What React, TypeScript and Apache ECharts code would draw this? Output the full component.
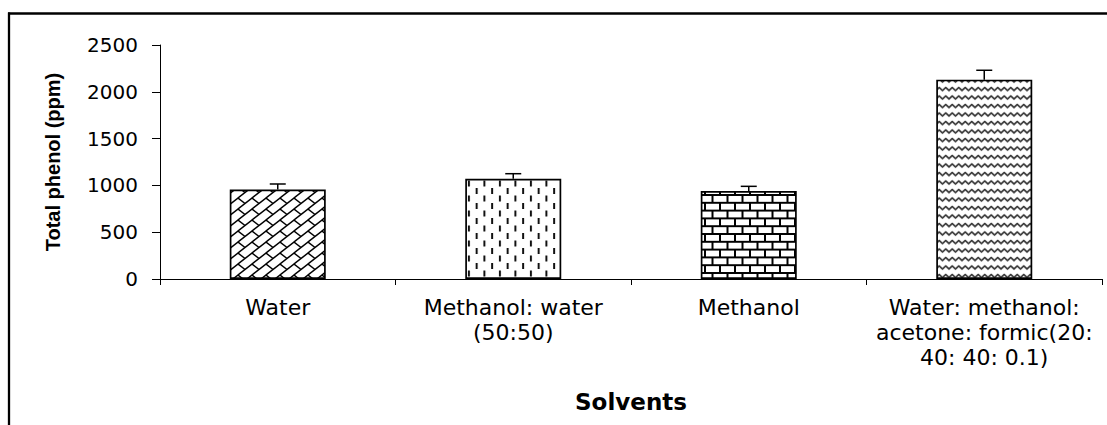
import React, { useEffect, useRef } from "react";
import * as echarts from "echarts";

const categories = [
  "Water",
  "Methanol: water\n(50:50)",
  "Methanol",
  "Water: methanol:\nacetone: formic(20:\n40: 40: 0.1)",
];
const values = [955, 1070, 940, 2130];
const errors = [60, 55, 50, 100];
const yMin = 0;
const yMax = 2500;
const yInterval = 500;

function svgUrl(w: number, h: number, body: string) {
  const svg = `<svg xmlns="http://www.w3.org/2000/svg" width="${w}" height="${h}" viewBox="0 0 ${w} ${h}"><rect width="${w}" height="${h}" fill="#fff"/>${body}</svg>`;
  return "data:image/svg+xml;charset=utf-8," + encodeURIComponent(svg);
}

function makePatterns() {
  // diagonal brick
  const dw = 14, dh = 11;
  let diag = "";
  for (let k = 0; k <= 2; k++) {
    diag += `<line x1="${-dw}" y1="${k * dh + dh}" x2="${2 * dw}" y2="${k * dh - 2 * dh}" stroke="#000" stroke-width="1.4"/>`;
  }
  diag += `<line x1="0" y1="0" x2="${dw / 2}" y2="${dh / 2}" stroke="#000" stroke-width="1.4"/>`;
  diag += `<line x1="${dw}" y1="${dh}" x2="${dw * 1.5}" y2="${dh * 1.5}" stroke="#000" stroke-width="1.4"/>`;
  diag += `<line x1="${-dw / 2}" y1="${-dh / 2}" x2="0" y2="0" stroke="#000" stroke-width="1.4"/>`;

  // dashed vertical
  const vw = 15.5, vh = 15;
  const dash = `<line x1="3.9" y1="0.5" x2="3.9" y2="6.5" stroke="#111" stroke-width="2"/><line x1="11.65" y1="8" x2="11.65" y2="14" stroke="#111" stroke-width="2"/>`;

  // horizontal brick
  const bw = 15, bh = 15.6;
  const brick = `<line x1="0" y1="0" x2="${bw}" y2="0" stroke="#000" stroke-width="2"/><line x1="0" y1="${bh}" x2="${bw}" y2="${bh}" stroke="#000" stroke-width="2"/><line x1="0" y1="${bh / 2}" x2="${bw}" y2="${bh / 2}" stroke="#000" stroke-width="2"/><line x1="0" y1="0" x2="0" y2="${bh / 2}" stroke="#000" stroke-width="2"/><line x1="${bw}" y1="0" x2="${bw}" y2="${bh / 2}" stroke="#000" stroke-width="2"/><line x1="${bw / 2}" y1="${bh / 2}" x2="${bw / 2}" y2="${bh}" stroke="#000" stroke-width="2"/>`;

  // wave
  const ww = 13, wh = 8.5;
  const wave = `<polyline points="-3.25,2.5 0,5.5 3.25,2.5 6.5,5.5 9.75,2.5 13,5.5 16.25,2.5" fill="none" stroke="#333" stroke-width="1.7" stroke-linejoin="round"/>`;

  return [
    { image: svgUrl(dw, dh, diag), repeat: "repeat", imageWidth: dw, imageHeight: dh },
    { image: svgUrl(vw, vh, dash), repeat: "repeat", imageWidth: vw, imageHeight: vh },
    { image: svgUrl(bw, bh, brick), repeat: "repeat", imageWidth: bw, imageHeight: bh },
    { image: svgUrl(ww, wh, wave), repeat: "repeat", imageWidth: ww, imageHeight: wh },
  ];
}

export default function App() {
  const ref = useRef<HTMLDivElement>(null);

  useEffect(() => {
    if (!ref.current) return;
    const chart = echarts.init(ref.current, null, { renderer: "svg" });
    const patterns = makePatterns();

    const option: any = {
      animation: false,
      backgroundColor: "#fff",
      grid: {
        left: 160,
        right: 5,
        top: 45,
        bottom: 146,
        containLabel: false,
        outerBoundsMode: "none",
      },
      xAxis: {
        type: "category",
        data: categories,
        boundaryGap: true,
        axisLine: { lineStyle: { color: "#000", width: 1 } },
        axisTick: { show: true, length: 6, alignWithLabel: false, lineStyle: { color: "#000" } },
        axisLabel: {
          interval: 0,
          margin: 16,
          color: "#000",
          fontFamily: "DejaVu Sans",
          fontSize: 22,
          lineHeight: 25,
          align: "center",
        },
        name: "Solvents",
        nameLocation: "middle",
        nameGap: 111,
        nameTextStyle: {
          color: "#000",
          fontFamily: "DejaVu Sans",
          fontWeight: "bold",
          fontSize: 23,
        },
      },
      yAxis: {
        type: "value",
        min: yMin,
        max: yMax,
        interval: yInterval,
        splitLine: { show: false },
        axisLine: { show: true, lineStyle: { color: "#000", width: 1 } },
        axisTick: { show: true, length: 8, lineStyle: { color: "#000" } },
        axisLabel: {
          margin: 22,
          color: "#000",
          fontFamily: "DejaVu Sans",
          fontSize: 20,
          formatter: (v: number) => String(v),
        },
        name: "Total phenol (ppm)",
        nameLocation: "middle",
        nameGap: 97,
        nameTextStyle: {
          color: "#000",
          fontFamily: "'Liberation Sans', Arial, sans-serif",
          fontWeight: "bold",
          fontSize: 20,
        },
      },
      series: [
        {
          type: "bar",
          barWidth: 96,
          data: values.map((v, i) => ({
            value: v,
            itemStyle: { color: patterns[i] },
          })),
          itemStyle: { borderColor: "#000", borderWidth: 1.7 },
          z: 2,
        },
        {
          type: "custom",
          z: 3,
          data: values.map((v, i) => [i, v, errors[i]]),
          renderItem: (params: any, api: any) => {
            const idx = api.value(0);
            const v = api.value(1);
            const e = api.value(2);
            const p0 = api.coord([idx, v]);
            const p1 = api.coord([idx, v + e]);
            const half = 8;
            return {
              type: "group",
              children: [
                {
                  type: "line",
                  shape: { x1: p0[0], y1: p0[1], x2: p1[0], y2: p1[1] },
                  style: { stroke: "#000", lineWidth: 1.5 },
                },
                {
                  type: "line",
                  shape: { x1: p1[0] - half, y1: p1[1], x2: p1[0] + half, y2: p1[1] },
                  style: { stroke: "#000", lineWidth: 1.5 },
                },
              ],
            };
          },
        },
      ],
      graphic: [
        {
          type: "line",
          shape: { x1: 8, y1: 13.5, x2: 1107, y2: 13.5 },
          style: { stroke: "#000", lineWidth: 2.3 },
          z: 10,
        },
        {
          type: "line",
          shape: { x1: 9, y1: 12.4, x2: 9, y2: 425 },
          style: { stroke: "#000", lineWidth: 2.3 },
          z: 10,
        },
      ],
    };

    chart.setOption(option);
    return () => {
      chart.dispose();
    };
  }, []);

  return (
    <div
      ref={ref}
      style={{ position: "absolute", left: 0, top: 0, width: 1107, height: 425 }}
    />
  );
}
